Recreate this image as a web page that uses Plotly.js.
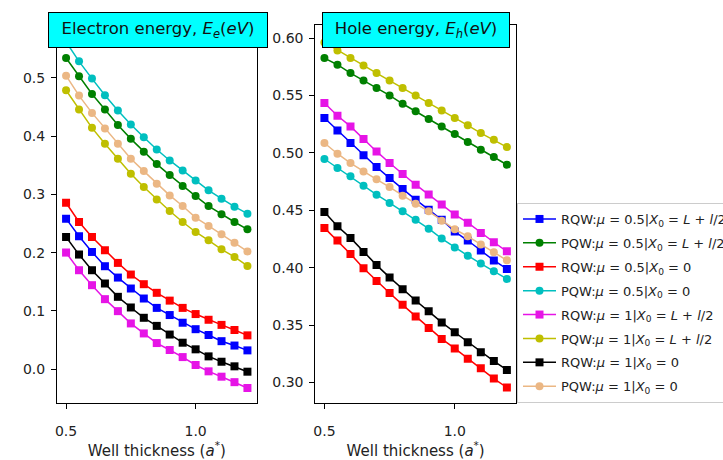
<!DOCTYPE html>
<html>
<head>
<meta charset="utf-8">
<script src="https://cdn.plot.ly/plotly-3.0.1.min.js"></script>
<style>html,body{margin:0;padding:0;background:#fff;}#chart{width:723px;height:460px;}</style>
</head>
<body>
<div id="chart"></div>
<script>
// Well thickness (a*)
const thickness = [0.5, 0.55, 0.6, 0.65, 0.7, 0.75, 0.8, 0.85, 0.9, 0.95, 1.0, 1.05, 1.1, 1.15, 1.2];

// Series names (legend)
const seriesNames = [
  "RQW:<i>μ</i> = 0.5|<i>X</i><sub>0</sub> = <i>L</i> + <i>l</i>/2",
  "PQW:<i>μ</i> = 0.5|<i>X</i><sub>0</sub> = <i>L</i> + <i>l</i>/2",
  "RQW:<i>μ</i> = 0.5|<i>X</i><sub>0</sub> = 0",
  "PQW:<i>μ</i> = 0.5|<i>X</i><sub>0</sub> = 0",
  "RQW:<i>μ</i> = 1|<i>X</i><sub>0</sub> = <i>L</i> + <i>l</i>/2",
  "PQW:<i>μ</i> = 1|<i>X</i><sub>0</sub> = <i>L</i> + <i>l</i>/2",
  "RQW:<i>μ</i> = 1|<i>X</i><sub>0</sub> = 0",
  "PQW:<i>μ</i> = 1|<i>X</i><sub>0</sub> = 0"
];

// Electron energy Ee (eV)
const eRQW05L = [0.2583, 0.2280, 0.2011, 0.1766, 0.1571, 0.1383, 0.1211, 0.1050, 0.0927, 0.0795, 0.0684, 0.0584, 0.0478, 0.0403, 0.0320];
const ePQW05L = [0.5343, 0.5029, 0.4726, 0.4457, 0.4194, 0.3954, 0.3731, 0.3520, 0.3331, 0.3143, 0.2971, 0.2800, 0.2657, 0.2526, 0.2400];
const eRQW050 = [0.2857, 0.2526, 0.2269, 0.2040, 0.1823, 0.1623, 0.1457, 0.1309, 0.1175, 0.1050, 0.0944, 0.0846, 0.0758, 0.0670, 0.0578];
const ePQW050 = [0.5620, 0.5286, 0.4989, 0.4703, 0.4440, 0.4200, 0.3983, 0.3771, 0.3583, 0.3411, 0.3240, 0.3069, 0.2926, 0.2789, 0.2669];
const eRQW1L  = [0.2000, 0.1697, 0.1440, 0.1200, 0.0994, 0.0783, 0.0611, 0.0446, 0.0326, 0.0205, 0.0069, -0.0040, -0.0132, -0.0226, -0.0326];
const ePQW1L  = [0.4789, 0.4457, 0.4143, 0.3869, 0.3611, 0.3354, 0.3126, 0.2914, 0.2714, 0.2526, 0.2354, 0.2211, 0.2057, 0.1926, 0.1771];
const eRQW10  = [0.2269, 0.1966, 0.1697, 0.1469, 0.1240, 0.1057, 0.0880, 0.0741, 0.0592, 0.0452, 0.0338, 0.0217, 0.0125, 0.0046, -0.0046];
const ePQW10  = [0.5040, 0.4697, 0.4400, 0.4131, 0.3869, 0.3611, 0.3400, 0.3183, 0.2983, 0.2800, 0.2600, 0.2457, 0.2314, 0.2171, 0.2020];

// Hole energy Eh (eV)
const hRQW05L = [0.5304, 0.5196, 0.5086, 0.4979, 0.4877, 0.4781, 0.4685, 0.4593, 0.4506, 0.4418, 0.4315, 0.4237, 0.4150, 0.4063, 0.3990];
const hPQW05L = [0.5826, 0.5768, 0.5695, 0.5631, 0.5565, 0.5501, 0.5428, 0.5362, 0.5295, 0.5231, 0.5164, 0.5095, 0.5028, 0.4964, 0.4897];
const hRQW050 = [0.4347, 0.4238, 0.4120, 0.3995, 0.3885, 0.3780, 0.3677, 0.3576, 0.3476, 0.3380, 0.3297, 0.3207, 0.3124, 0.3035, 0.2957];
const hPQW050 = [0.4947, 0.4868, 0.4796, 0.4715, 0.4636, 0.4564, 0.4491, 0.4418, 0.4340, 0.4254, 0.4176, 0.4105, 0.4036, 0.3970, 0.3903];
const hRQW1L  = [0.5434, 0.5324, 0.5231, 0.5121, 0.5013, 0.4912, 0.4816, 0.4723, 0.4637, 0.4550, 0.4463, 0.4392, 0.4303, 0.4222, 0.4143];
const hPQW1L  = [0.5962, 0.5893, 0.5826, 0.5762, 0.5695, 0.5631, 0.5565, 0.5501, 0.5434, 0.5370, 0.5304, 0.5240, 0.5173, 0.5115, 0.5051];
const hRQW10  = [0.4486, 0.4361, 0.4260, 0.4138, 0.4023, 0.3916, 0.3813, 0.3715, 0.3620, 0.3524, 0.3438, 0.3352, 0.3265, 0.3187, 0.3110];
const hPQW10  = [0.5086, 0.4993, 0.4912, 0.4839, 0.4770, 0.4703, 0.4627, 0.4558, 0.4491, 0.4410, 0.4335, 0.4274, 0.4202, 0.4135, 0.4065];

const electronSeries = [eRQW05L, ePQW05L, eRQW050, ePQW050, eRQW1L, ePQW1L, eRQW10, ePQW10];
const holeSeries = [hRQW05L, hPQW05L, hRQW050, hPQW050, hRQW1L, hPQW1L, hRQW10, hPQW10];

const colors = ["#0000ff", "#008000", "#ff0000", "#00bfbf", "#e614e6", "#bfbf00", "#000000", "#ebb784"];
const symbols = ["square", "circle", "square", "circle", "square", "circle", "square", "circle"];

const FONT = "DejaVu Sans, sans-serif";
const traces = [];
function addTraces(series, xa, ya, show) {
  series.forEach((ys, i) => {
    traces.push({
      type: "scatter", mode: "lines+markers",
      x: thickness, y: ys, xaxis: xa, yaxis: ya,
      name: seriesNames[i], legendgroup: "g" + i, showlegend: show,
      line: {color: colors[i], width: 1.5},
      marker: {symbol: symbols[i], size: 8, color: colors[i], line: {width: 0}},
      hoverinfo: "skip"
    });
  });
}
addTraces(electronSeries, "x", "y", true);
addTraces(holeSeries, "x2", "y2", false);

const W = 723, H = 460;
const axCommon = {
  showgrid: false, zeroline: false, showline: true, mirror: true,
  linecolor: "#000", linewidth: 1, ticks: "outside", ticklen: 5, tickwidth: 1, tickcolor: "#000",
  tickfont: {family: FONT, size: 14, color: "#222"}
};
const xTitle = {text: "Well thickness (<i>a</i><sup>*</sup>)", font: {family: FONT, size: 15, color: "#222"}, standoff: 7};

const layout = {
  width: W, height: H,
  margin: {l: 0, r: 0, t: 0, b: 0, autoexpand: false},
  paper_bgcolor: "#fff", plot_bgcolor: "#fff",
  showlegend: true,
  xaxis: Object.assign({}, axCommon, {domain: [57/W, 256.5/W], range: [0.465, 1.235], anchor: "y",
    tick0: 0.5, dtick: 0.5, tickformat: ".1f", ticklabelstandoff: 10, title: xTitle}),
  yaxis: Object.assign({}, axCommon, {domain: [1 - 403/H, 1 - 48/H], range: [-0.0584, 0.5515], anchor: "x",
    tick0: 0, dtick: 0.1, tickformat: ".1f", ticklabelstandoff: 3}),
  xaxis2: Object.assign({}, axCommon, {domain: [315.3/W, 516/W], range: [0.465, 1.235], anchor: "y2",
    tick0: 0.5, dtick: 0.5, tickformat: ".1f", ticklabelstandoff: 10, title: xTitle}),
  yaxis2: Object.assign({}, axCommon, {domain: [1 - 403/H, 1 - 25/H], range: [0.2822, 0.6114], anchor: "x2",
    tick0: 0.3, dtick: 0.05, tickformat: ".2f", ticklabelstandoff: 3}),
  legend: {
    x: 517/W, y: 1 - 203/H, xanchor: "left", yanchor: "top",
    bgcolor: "#fff", bordercolor: "#cccccc", borderwidth: 1,
    font: {family: FONT, size: 13, color: "#222"},
    traceorder: "grouped", tracegroupgap: 4, itemwidth: 33
  },
  annotations: [
    {xref: "paper", yref: "paper", x: 157.5/W, y: 1 - 30/H, xanchor: "center", yanchor: "middle",
     showarrow: false, text: "Electron energy, <i>E</i><sub><i>e</i></sub>(<i>eV</i>)",
     font: {family: FONT, size: 16.5, color: "#111"}, bgcolor: "#00ffff", bordercolor: "#000",
     borderwidth: 1, borderpad: 0, width: 218, height: 34},
    {xref: "paper", yref: "paper", x: 415.8/W, y: 1 - 30/H, xanchor: "center", yanchor: "middle",
     showarrow: false, text: "Hole energy, <i>E</i><sub><i>h</i></sub>(<i>eV</i>)",
     font: {family: FONT, size: 16.5, color: "#111"}, bgcolor: "#00ffff", bordercolor: "#000",
     borderwidth: 1, borderpad: 0, width: 186, height: 34}
  ]
};

Plotly.newPlot("chart", traces, layout, {displayModeBar: false, staticPlot: true});
</script>
</body>
</html>
